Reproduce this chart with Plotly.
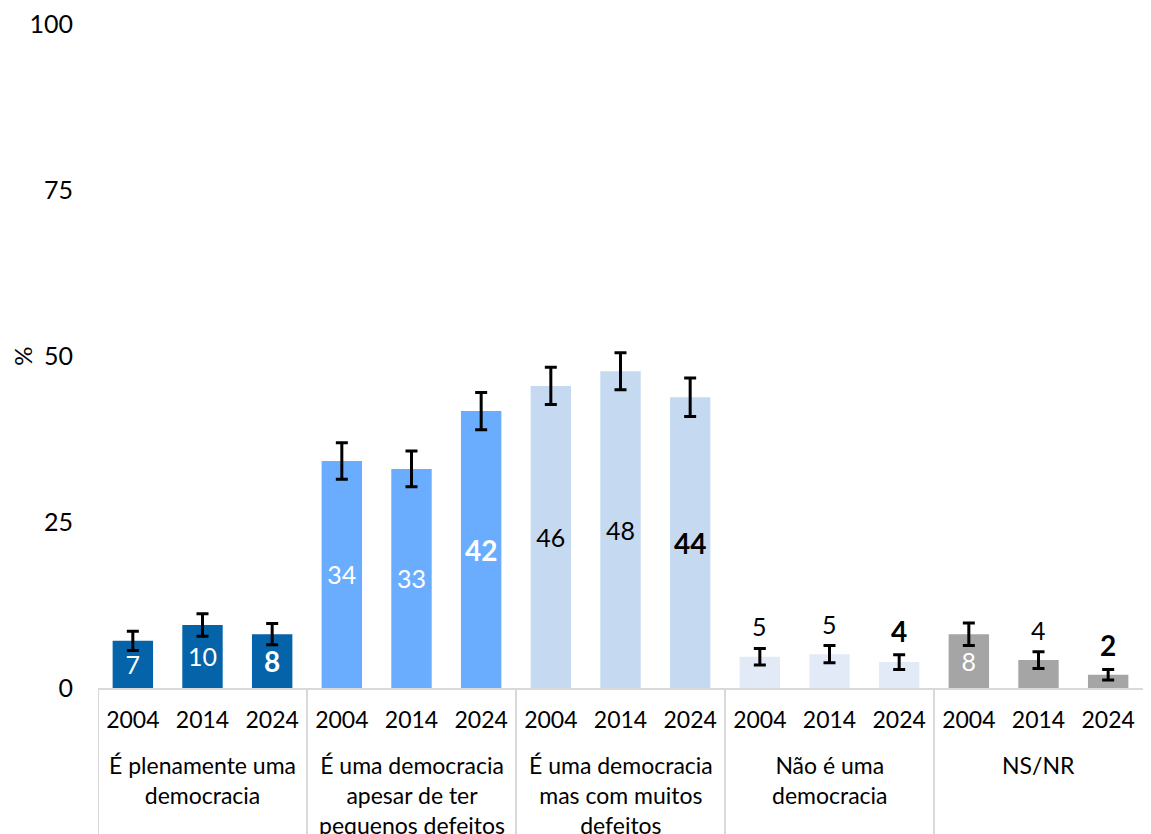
import plotly.graph_objects as go

# Dados
GROUPS = [
    "É plenamente uma<br>democracia",
    "É uma democracia<br>apesar de ter<br>pequenos defeitos",
    "É uma democracia<br>mas com muitos<br>defeitos",
    "Não é uma<br>democracia",
    "NS/NR",
]
YEARS = ["2004", "2014", "2024"]

VALUES = [
    7.1, 9.5, 8.1,
    34.2, 33.0, 41.7,
    45.5, 47.7, 43.8,
    4.7, 5.1, 3.9,
    8.1, 4.2, 2.0,
]
LABELS = [7, 10, 8, 34, 33, 42, 46, 48, 44, 5, 5, 4, 8, 4, 2]
ERRORS = [
    1.45, 1.7, 1.6,
    2.75, 2.7, 2.8,
    2.8, 2.8, 2.9,
    1.25, 1.3, 1.1,
    1.7, 1.25, 0.8,
]
# Rotulo dentro (True) ou acima (False) da barra
LABEL_INSIDE = [
    True, True, True,
    True, True, True,
    True, True, True,
    False, False, False,
    True, False, False,
]

# Design
GROUP_COLORS = ["#0563A9", "#6AADFE", "#C5DAF0", "#E2EAF8", "#A5A5A5"]
LABEL_COLORS = ["white", "white", "black", "black", "white"]
AXIS_GREY = "#D9D9D9"
FONT = "Lato"
TICK_SIZE = 23

n_years = len(YEARS)
pos = list(range(len(GROUPS) * n_years))
x_years = YEARS * len(GROUPS)
bar_colors = [c for c in GROUP_COLORS for _ in YEARS]
txt_colors = [c for c in LABEL_COLORS for _ in YEARS]


def fmt(label, year):
    return f"<b>{label}</b>" if year == "2024" else str(label)


def size(year):
    return 28 if year == "2024" else 25


inside_text = [fmt(l, yr) if ins else "" for l, yr, ins in zip(LABELS, x_years, LABEL_INSIDE)]

fig = go.Figure()

fig.add_trace(go.Bar(
    x=pos,
    y=VALUES,
    width=0.58,
    marker=dict(color=bar_colors, line=dict(width=0)),
    text=inside_text,
    textposition="inside",
    insidetextanchor="middle",
    constraintext="none",
    textfont=dict(family=FONT, color=txt_colors, size=[size(y) for y in x_years]),
    error_y=dict(type="data", array=ERRORS, visible=True,
                 color="black", thickness=3, width=6),
    hoverinfo="skip",
))

# Rotulos acima das barras de erro
out_idx = [i for i, ins in enumerate(LABEL_INSIDE) if not ins]
for i in out_idx:
    fig.add_annotation(
        x=pos[i], y=VALUES[i] + ERRORS[i],
        xref="x", yref="y",
        yanchor="bottom", yshift=6,
        text=fmt(LABELS[i], x_years[i]), showarrow=False, borderpad=0,
        font=dict(family=FONT, color="black", size=size(x_years[i])),
    )

# Nomes dos grupos e divisores
for g, name in enumerate(GROUPS):
    fig.add_annotation(
        x=g * n_years + (n_years - 1) / 2, xref="x",
        y=0, yref="paper",
        yanchor="top", yshift=-62,
        text=name, showarrow=False, borderpad=0,
        font=dict(family=FONT, size=TICK_SIZE, color="black"),
    )
for g in range(len(GROUPS)):
    fig.add_shape(
        type="line", xref="x", yref="paper",
        x0=g * n_years - 0.5, x1=g * n_years - 0.5, y0=0, y1=-0.4,
        line=dict(color=AXIS_GREY, width=2),
    )

fig.update_layout(
    width=1135,
    height=834,
    paper_bgcolor="white",
    plot_bgcolor="white",
    font=dict(family=FONT, color="black", size=TICK_SIZE),
    showlegend=False,
    margin=dict(l=90, r=0, t=16, b=154, autoexpand=False),
    xaxis=dict(
        range=[-0.5, len(pos) - 0.5],
        tickvals=pos,
        ticktext=x_years,
        showline=True,
        linecolor=AXIS_GREY,
        linewidth=2,
        ticks="outside",
        ticklen=10,
        tickcolor="rgba(0,0,0,0)",
        tickfont=dict(family=FONT, size=TICK_SIZE, color="black"),
        showgrid=False,
        zeroline=False,
        automargin=False,
    ),
    yaxis=dict(
        range=[0, 100],
        tickvals=[0, 25, 50, 75, 100],
        showgrid=False,
        zeroline=False,
        showline=False,
        ticks="outside",
        ticklen=19,
        tickcolor="rgba(0,0,0,0)",
        tickfont=dict(family=FONT, size=25, color="black"),
        ticklabeloverflow="allow",
        title=dict(text="%", font=dict(family=FONT, size=24), standoff=0),
        automargin=False,
    ),
)

fig.write_html("out.html")
